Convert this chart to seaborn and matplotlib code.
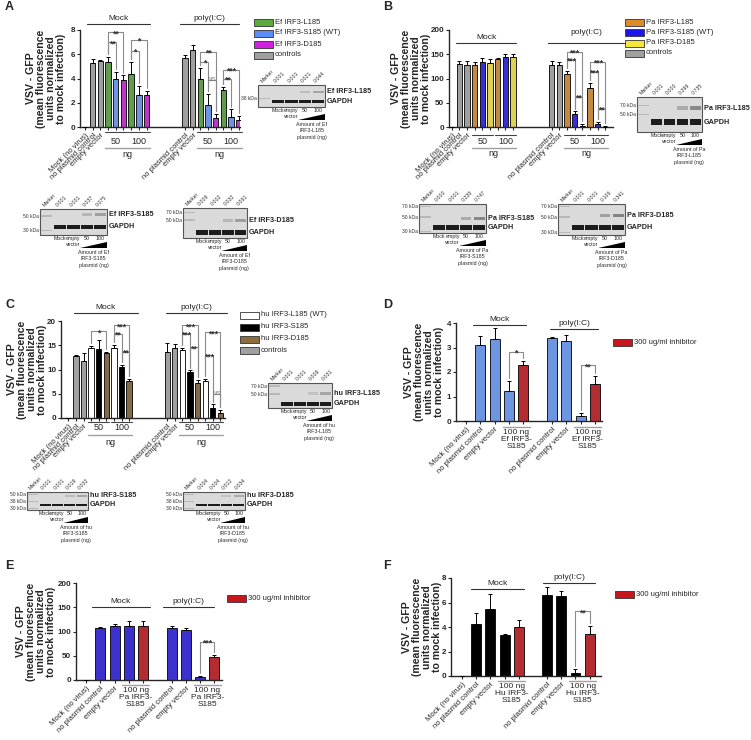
import numpy as np
import pandas as pd
import matplotlib
matplotlib.use('Agg')
import matplotlib.pyplot as plt
from matplotlib.patches import Rectangle, Polygon
import seaborn as sns

sns.set_style('ticks')
plt.rcParams['font.family'] = ['Liberation Sans', 'DejaVu Sans']

W, H = 751, 740

#------------------------------ data ------------------------------
cats_abc = ["Mock (no virus)", "no plasmid control", "empty vector",
            "50 ng IRF3-L185", "50 ng IRF3-S185", "50 ng IRF3-D185",
            "100 ng IRF3-L185", "100 ng IRF3-S185", "100 ng IRF3-D185"]
kinds_abc = ["ctrl", "ctrl", "ctrl", "L", "S", "D", "L", "S", "D"]

cats_def = ["Mock (no virus)", "no plasmid control", "empty vector",
            "100 ng IRF3-S185", "100 ng IRF3-S185 + inhibitor"]
kinds_def = ["base", "base", "base", "base", "inh"]

shown = ["Mock (no virus)", "no plasmid control", "empty vector"]

# A: Ef IRF3
a_mock = [0, 5.25, 5.45, 5.35, 3.95, 3.9, 4.35, 2.65, 2.65]
a_mock_sd = [0, 0.35, 0.1, 0.4, 0.62, 0.35, 1.0, 0.72, 0.3]
a_poly = [5.65, 6.35, 3.95, 1.8, 0.75, 3.05, 0.8, 0.6]
a_poly_sd = [0.25, 0.45, 0.9, 0.9, 0.35, 0.25, 0.65, 0.3]

# B: Pa IRF3
b_mock = [0, 129, 128, 127, 134, 132, 141, 145, 144]
b_mock_sd = [0, 7, 8, 6, 8, 8, 2, 6, 7]
b_poly = [127, 127, 110, 27, 3, 80, 6, 1]
b_poly_sd = [9, 6, 6, 5, 3, 10, 4, 1]

# C: hu IRF3
c_mock = [0, 12.7, 11.7, 14.5, 14.3, 13.3, 14.4, 10.6, 7.7]
c_mock_sd = [0, 0.25, 1.6, 0.4, 1.8, 0.4, 0.7, 0.4, 0.3]
c_poly = [13.6, 14.5, 14.0, 9.5, 7.2, 7.7, 2.1, 1.1]
c_poly_sd = [1.9, 0.8, 0.5, 0.3, 0.6, 0.3, 0.7, 0.6]

# D, E, F: inhibitor
d_mock = [0, 3.1, 3.33, 1.22, 2.27]
d_mock_sd = [0, 0.35, 0.45, 0.42, 0.18]
d_poly = [3.38, 3.28, 0.2, 1.52]
d_poly_sd = [0.06, 0.23, 0.13, 0.32]

e_mock = [0, 107, 112, 112, 112]
e_mock_sd = [0, 2, 4, 10, 9]
e_poly = [107, 104, 6, 47]
e_poly_sd = [4, 3, 3, 5]

f_mock = [0, 4.25, 5.5, 3.33, 4.0]
f_mock_sd = [0, 0.88, 1.2, 0.12, 0.55]
f_poly = [6.6, 6.55, 0.25, 3.45]
f_poly_sd = [0.7, 0.35, 0.35, 0.65]

# significance brackets (first bar, last bar, height, label)
a_sig = [(3, 5, 7.8, '**'), (3, 4, 7.0, '**'), (6, 8, 7.2, '*'), (6, 7, 6.3, '*'),
         (15, 17, 6.2, '**'), (15, 16, 5.4, '*'), (16, 17, 3.9, 'NS'),
         (18, 20, 4.7, '***'), (18, 19, 4.0, '**')]
b_sig = [(15, 17, 155, '***'), (15, 16, 138, '***'), (16, 17, 62, '**'),
         (18, 20, 134, '***'), (18, 19, 114, '***'), (19, 20, 38, '**')]
c_sig = [(3, 5, 17.9, '*'), (6, 8, 19.1, '***'), (6, 7, 17.4, '**'), (7, 8, 13.6, '**'),
         (15, 17, 19.1, '***'), (15, 16, 17.4, '***'), (16, 17, 14.6, '**'),
         (18, 20, 17.7, '***'), (18, 19, 12.9, '***'), (19, 20, 5.0, 'NS')]
d_sig = [(3, 4, 2.82, '*'), (8, 9, 2.27, '**')]
e_sig = [(8, 9, 79, '***')]
f_sig = [(8, 9, 5.27, '**')]

pal_a = {"ctrl": "#a0a0a0", "L": "#5aab3e", "S": "#5b8ef5", "D": "#d21fe0"}
pal_b = {"ctrl": "#a0a0a0", "L": "#dc8a2c", "S": "#1e14ee", "D": "#f4e73a"}
pal_c = {"ctrl": "#a0a0a0", "L": "#ffffff", "S": "#000000", "D": "#8c6d40"}
pal_d = {"base": "#5b8ef5", "inh": "#c8161d"}
pal_e = {"base": "#2418e8", "inh": "#c8161d"}
pal_f = {"base": "#000000", "inh": "#c8161d"}

YLAB = 'VSV - GFP\n(mean fluorescence\nunits normalized\nto mock infection)'

fig = plt.figure(figsize=(W / 100, H / 100), dpi=100)
ov = fig.add_axes([0, 0, 1, 1])
ov.set_xlim(0, W)
ov.set_ylim(H, 0)
ov.axis('off')
ov.patch.set_alpha(0)


def rect(l, t, r, b):
    return [l / W, 1 - b / H, (r - l) / W, (b - t) / H]


def bar_panel(box, cats, kinds, mock, mock_sd, poly, poly_sd, pal, n_gap,
              xlim, ymax, ystep, labx, sig):
    rows, order = [], []
    for c, k, v, s in zip(cats, kinds, mock, mock_sd):
        rows.append(('Mock|' + c, c, k, v, s))
        order.append('Mock|' + c)
    order += ['gap%d' % i for i in range(n_gap)]
    for c, k, v, s in zip(cats[1:], kinds[1:], poly, poly_sd):
        rows.append(('poly|' + c, c, k, v, s))
        order.append('poly|' + c)
    df = pd.DataFrame(rows, columns=['key', 'cat', 'kind', 'val', 'sd'])

    ax = fig.add_axes(rect(*box))
    sns.barplot(data=df, x='key', y='val', hue='kind', palette=pal, order=order,
                dodge=False, legend=False, width=0.7, edgecolor='black',
                linewidth=0.6, errorbar=None, ax=ax)
    pos = np.array([order.index(k) for k in df['key']])
    ax.errorbar(pos, df['val'], yerr=[np.zeros(len(df)), df['sd']], fmt='none',
                ecolor='black', elinewidth=0.7, capsize=1.6, capthick=0.7, zorder=3)
    ax.set_xticks(pos)
    ax.set_xticklabels([c if c in shown else '' for c in df['cat']], rotation=45,
                       ha='right', rotation_mode='anchor', fontsize=5.5)
    ax.set_xlim(*xlim)
    ax.set_ylim(0, ymax)
    ax.set_yticks(np.arange(0, ymax + 0.001, ystep))
    ax.set_yticklabels([f'{t:g}' for t in ax.get_yticks()], fontsize=5.8, fontweight='bold')
    ax.tick_params(axis='both', length=2.5, width=0.8, pad=1)
    ax.set_xlabel('')
    ax.set_ylabel(YLAB, fontsize=7.6, fontweight='bold', linespacing=1.0)
    ax.yaxis.set_label_coords(labx, 0.5)
    sns.despine(ax=ax)
    for sp in ['left', 'bottom']:
        ax.spines[sp].set_linewidth(1.0)

    tops = dict(zip(pos, df['val'] + df['sd']))
    for i, j, y, lab in sig:
        pad = 0.03 * ymax
        yi = min(tops[i] + pad, y - 0.02 * ymax)
        yj = min(tops[j] + pad, y - 0.02 * ymax)
        ax.plot([i, i, j, j], [yi, y, y, yj], color='#8a8a8a', lw=0.8, clip_on=False)
        if lab == 'NS':
            ax.text((i + j) / 2, y, lab, ha='center', va='center', fontsize=4.5,
                    color='#777777', zorder=4)
        else:
            ax.text((i + j) / 2, y - 0.015 * ymax, lab, ha='center', va='center',
                    fontsize=6.3, fontweight='bold', color='#333333', zorder=4)
    return ax


def group_top(ax, x1, x2, yl, yt, text):
    tr = ax.get_xaxis_transform()
    ax.plot([x1, x2], [yl, yl], color='#333333', lw=0.8, transform=tr, clip_on=False)
    ax.text((x1 + x2) / 2, yt, text, ha='center', va='center', fontsize=6,
            transform=tr, color='#222222')


def ng_labels(ax, starts, y_short, y_num, y_long, y_ng):
    tr = ax.get_xaxis_transform()
    for s in starts:
        for k, num in [(s, '50'), (s + 3, '100')]:
            ax.plot([k - 0.4, k + 2.4], [y_short, y_short], color='#444444', lw=0.8,
                    transform=tr, clip_on=False)
            ax.text(k + 1, y_num, num, ha='center', va='center', fontsize=6.5,
                    transform=tr)
        ax.plot([s - 0.4, s + 5.4], [y_long, y_long], color='#a0a0a0', lw=1.0,
                transform=tr, clip_on=False)
        ax.text(s + 2.5, y_ng, 'ng', ha='center', va='center', fontsize=6.5, transform=tr)


def dose_label(ax, xs, y_line, text):
    tr = ax.get_xaxis_transform()
    for s in xs:
        ax.plot([s - 0.45, s + 1.45], [y_line, y_line], color='#a0a0a0', lw=1.0,
                transform=tr, clip_on=False)
        ax.text(s + 0.5, y_line - 0.02, text, ha='center', va='top', fontsize=6,
                linespacing=1.05, transform=tr)


def legend(x, ys, entries):
    for y, (lab, col) in zip(ys, entries):
        ov.add_patch(Rectangle((x, y - 3.5), 19, 7, fc=col, ec='#333333', lw=0.6))
        ov.text(x + 21, y, lab, fontsize=5.5, va='center', ha='left')


def blot(x0, y0, x1, y1, lanes, target, kda, tgt_y, gap_y, tgt, amount):
    w, h = x1 - x0, y1 - y0
    lw = w / 5
    ov.add_patch(Rectangle((x0, y0), w, h, fc='#dadada', ec='#555555', lw=0.8))
    for i, lab in enumerate(lanes):
        cx = x0 + (i + 0.5) * lw
        ov.text(cx - 1.5, y0 - 1, lab, rotation=45, ha='left', va='bottom',
                rotation_mode='anchor', fontsize=3.8, color='#333333')
    for lab, fy in kda:
        ov.text(x0 - 1, y0 + fy * h, lab, ha='right', va='center', fontsize=3.6,
                color='#333333')
        ov.add_patch(Rectangle((x0 + 0.1 * lw, y0 + fy * h - 0.6), 0.8 * lw, 1.2,
                               fc='#b8b8b8', ec='none'))
    for i in range(1, 5):
        ov.add_patch(Rectangle((x0 + (i + 0.05) * lw, y0 + gap_y * h - 0.08 * h),
                               0.9 * lw, 0.16 * h, fc='#1c1c1c', ec='none'))
    for i, lv in zip([3, 4], tgt):
        g = 0.85 - 0.45 * lv
        ov.add_patch(Rectangle((x0 + (i + 0.1) * lw, y0 + tgt_y * h - 0.05 * h),
                               0.8 * lw, 0.1 * h, fc=(g, g, g), ec='none'))
    ov.text(x1 + 2, y0 + tgt_y * h, target, fontsize=5.2, fontweight='bold', va='center')
    ov.text(x1 + 2, y0 + gap_y * h, 'GAPDH', fontsize=5.2, fontweight='bold', va='center')
    yb = y1 + 1
    ov.text(x0 + 1.5 * lw, yb, 'Mock', ha='center', va='top', fontsize=3.8)
    ov.text(x0 + 2.5 * lw, yb, 'empty', ha='center', va='top', fontsize=3.8)
    ov.text(x0 + 2.5 * lw, yb + 6, 'vector', ha='center', va='top', fontsize=3.8)
    ov.text(x0 + 3.5 * lw, yb, '50', ha='center', va='top', fontsize=3.8)
    ov.text(x0 + 4.5 * lw, yb, '100', ha='center', va='top', fontsize=3.8)
    ov.add_patch(Polygon([(x0 + 3 * lw, y1 + 13), (x1, y1 + 7), (x1, y1 + 13)],
                         closed=True, fc='black', ec='none'))
    ov.text(x0 + 4 * lw, y1 + 15, amount, ha='center', va='top', fontsize=3.8,
            linespacing=1.35)


#------------------------------ panel A ------------------------------
ax = bar_panel((80, 30, 240, 127), cats_abc, kinds_abc, a_mock, a_mock_sd, a_poly,
               a_poly_sd, pal_a, 4, (-0.65, 20.15), 8, 2, -0.085, a_sig)
group_top(ax, 0.3, 8.4, 1.062, 1.12, 'Mock')
group_top(ax, 12.3, 20.0, 1.062, 1.12, 'poly(I:C)')
ng_labels(ax, [3, 15], -0.05, -0.15, -0.22, -0.28)
legend(254, [22, 33, 44, 55], [('Ef IRF3-L185', pal_a['L']), ('Ef IRF3-S185 (WT)', pal_a['S']),
                               ('Ef IRF3-D185', pal_a['D']), ('controls', pal_a['ctrl'])])

#------------------------------ panel B ------------------------------
ax = bar_panel((449, 30, 613, 127), cats_abc, kinds_abc, b_mock, b_mock_sd, b_poly,
               b_poly_sd, pal_b, 4, (-0.35, 21.0), 200, 50, -0.11, b_sig)
group_top(ax, 0.56, 8.4, 0.87, 0.92, 'Mock')
group_top(ax, 12.6, 22.5, 0.87, 0.97, 'poly(I:C)')
ng_labels(ax, [3, 15], -0.08, -0.145, -0.22, -0.27)
legend(625, [22, 32, 43, 53], [('Pa IRF3-L185', pal_b['L']), ('Pa IRF3-S185 (WT)', pal_b['S']),
                               ('Pa IRF3-D185', pal_b['D']), ('controls', pal_b['ctrl'])])

#------------------------------ panel C ------------------------------
ax = bar_panel((61, 321, 225, 418), cats_abc, kinds_abc, c_mock, c_mock_sd, c_poly,
               c_poly_sd, pal_c, 4, (-0.96, 20.6), 20, 5, -0.085, c_sig)
group_top(ax, 0.7, 9.1, 1.08, 1.14, 'Mock')
group_top(ax, 12.8, 20.9, 1.08, 1.14, 'poly(I:C)')
ng_labels(ax, [3, 15], -0.04, -0.10, -0.175, -0.25)
legend(240, [315, 327, 339, 350], [('hu IRF3-L185 (WT)', pal_c['L']), ('hu IRF3-S185', pal_c['S']),
                                   ('hu IRF3-D185', pal_c['D']), ('controls', pal_c['ctrl'])])

#------------------------------ panel D ------------------------------
ax = bar_panel((456, 323, 602, 421), cats_def, kinds_def, d_mock, d_mock_sd, d_poly,
               d_poly_sd, pal_d, 1, (-0.7, 9.5), 4, 1, -0.08, d_sig)
group_top(ax, 0.5, 4.2, 0.98, 1.04, 'Mock')
group_top(ax, 5.9, 9.2, 0.94, 0.99, 'poly(I:C)')
dose_label(ax, [3, 8], -0.06, '100 ng\nEf IRF3-\nS185')
legend(613, [342.5], [('300 ug/ml inhibitor', pal_d['inh'])])

#------------------------------ panel E ------------------------------
ax = bar_panel((76, 583, 222, 680), cats_def, kinds_def, e_mock, e_mock_sd, e_poly,
               e_poly_sd, pal_e, 1, (-0.7, 9.53), 200, 50, -0.14, e_sig)
group_top(ax, 0.4, 4.5, 0.75, 0.81, 'Mock')
group_top(ax, 5.4, 9.0, 0.75, 0.81, 'poly(I:C)')
dose_label(ax, [3, 8], -0.05, '100 ng\nPa IRF3-\nS185')
legend(227, [598], [('300 ug/ml inhibitor', pal_e['inh'])])

#------------------------------ panel F ------------------------------
ax = bar_panel((451, 578, 601, 676), cats_def, kinds_def, f_mock, f_mock_sd, f_poly,
               f_poly_sd, pal_f, 1, (-0.78, 9.8), 8, 2, -0.06, f_sig)
group_top(ax, 0.63, 4.35, 0.89, 0.94, 'Mock')
group_top(ax, 5.7, 9.4, 0.95, 1.01, 'poly(I:C)')
dose_label(ax, [3, 8], -0.05, '100 ng\nHu IRF3-\nS185')
legend(615, [594], [('300 ug/ml inhibitor', pal_f['inh'])])

#------------------------------ blots ------------------------------
blot(258, 85, 325, 107, ['Marker', '0.001', '0.001', '0.021', '0.044'], 'Ef IRF3-L185',
     [('38 kDa', 0.6)], 0.3, 0.75, (0.25, 0.45), 'Amount of Ef\nIRF3-L185\nplasmid (ng)')
blot(40, 209, 107, 235, ['Marker', '0.001', '0.001', '0.037', '0.075'], 'Ef IRF3-S185',
     [('50 kDa', 0.27), ('30 kDa', 0.82)], 0.22, 0.68, (0.3, 0.5), 'Amount of Ef\nIRF3-S185\nplasmid (ng)')
blot(183, 208, 247, 238, ['Marker', '0.009', '0.002', '0.032', '0.061'], 'Ef IRF3-D185',
     [('70 kDa', 0.15), ('50 kDa', 0.4)], 0.42, 0.82, (0.3, 0.5), 'Amount of Ef\nIRF3-D185\nplasmid (ng)')
blot(637, 97, 702, 132, ['Marker', '0.001', '0.000', '0.299', '0.735'], 'Pa IRF3-L185',
     [('70 kDa', 0.25), ('50 kDa', 0.5)], 0.32, 0.72, (0.4, 0.7), 'Amount of Pa\nIRF3-L185\nplasmid (ng)')
blot(419, 204, 486, 233, ['Marker', '0.000', '0.001', '0.228', '0.747'], 'Pa IRF3-S185',
     [('70 kDa', 0.08), ('50 kDa', 0.45), ('30 kDa', 0.95)], 0.5, 0.82, (0.4, 0.7),
     'Amount of Pa\nIRF3-S185\nplasmid (ng)')
blot(558, 204, 625, 235, ['Marker', '0.001', '0.001', '0.106', '0.341'], 'Pa IRF3-D185',
     [('70 kDa', 0.08), ('50 kDa', 0.42), ('30 kDa', 0.92)], 0.38, 0.75, (0.5, 0.75),
     'Amount of Pa\nIRF3-D185\nplasmid (ng)')
blot(268, 383, 332, 408, ['Marker', '0.001', '0.001', '0.009', '0.031'], 'hu IRF3-L185',
     [('70 kDa', 0.12), ('50 kDa', 0.44)], 0.42, 0.82, (0.2, 0.45), 'Amount of hu\nIRF3-L185\nplasmid (ng)')
blot(27, 492, 88, 510, ['Marker', '0.001', '0.001', '0.019', '0.032'], 'hu IRF3-S185',
     [('50 kDa', 0.12), ('38 kDa', 0.55), ('30 kDa', 0.9)], 0.2, 0.72, (0.25, 0.45),
     'Amount of hu\nIRF3-S185\nplasmid (ng)')
blot(183, 492, 245, 510, ['Marker', '0.004', '0.004', '0.012', '0.034'], 'hu IRF3-D185',
     [('50 kDa', 0.12), ('38 kDa', 0.55), ('30 kDa', 0.9)], 0.2, 0.72, (0.2, 0.4),
     'Amount of hu\nIRF3-D185\nplasmid (ng)')

#------------------------------ panel letters ------------------------------
for lab, x, y in [('A', 5, 7), ('B', 383, 7), ('C', 5, 305), ('D', 383, 305),
                  ('E', 5, 566), ('F', 383, 566)]:
    ov.text(x, y, lab, fontsize=9, fontweight='bold', ha='left', va='center')

fig.savefig('out.png', dpi=100)
